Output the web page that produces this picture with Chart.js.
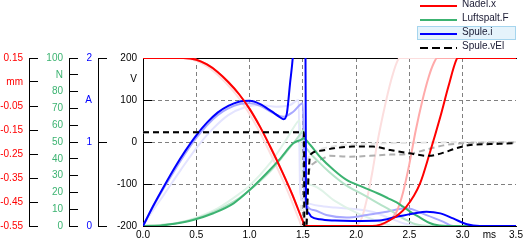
<!DOCTYPE html>
<html lang="de">
<head>
<meta charset="utf-8">
<title>Nadel / Luftspalt / Spule</title>
<script src="https://cdn.jsdelivr.net/npm/chart.js@4.4.1/dist/chart.umd.min.js"></script>
<style>
    body { margin: 0; background: #fff; }
    #contenedor { position: relative; width: 523px; height: 243px; }
    #leyenda {
        position: absolute; left: 417px; top: -2px;
        font: 10px "Liberation Sans", Arial, sans-serif; color: #1a1a33;
    }
    .fila { position: relative; width: 99px; height: 14px; line-height: 14px; }
    .fila.activa { background: #e5f3fb; box-shadow: inset 0 0 0 1px #a5d5ee; }
    .muestra { position: absolute; left: 3px; top: 7px; width: 37px; height: 2px; }
    .texto { position: absolute; left: 45px; top: -1px; white-space: nowrap; }
</style>
</head>
<body>
<div id="contenedor">
    <canvas id="grafico" width="523" height="243"></canvas>
    <div id="leyenda"></div>
</div>
<script>
// ejes
const zeitTicks = [0, 0.5, 1, 1.5, 2, 2.5, 3, 3.25, 3.5];
const zeitEtiquetas = ["0.0", "0.5", "1.0", "1.5", "2.0", "2.5", "3.0", "ms", "3.5"];
const mmTicks = [-0.55, -0.45, -0.35, -0.25, -0.15, -0.05, 0.05, 0.15];
const mmEtiquetas = ["-0.55", "-0.45", "-0.35", "-0.25", "-0.15", "-0.05", "mm", "0.15"];
const nTicks = [0, 10, 20, 30, 40, 50, 60, 70, 80, 90, 100];
const nEtiquetas = ["0", "10", "20", "30", "40", "50", "60", "70", "80", "N", "100"];
const aTicks = [0, 1, 1.5, 2];
const aEtiquetas = ["0", "1", "A", "2"];
const vTicks = [-200, -100, 0, 100, 150, 200];
const vEtiquetas = ["-200", "-100", "0", "100", "V", "200"];

// Nadel.x [mm]
const nadelZeit = [0, 0.38, 0.5, 0.6, 0.7, 0.8, 0.9, 1.0, 1.1, 1.2, 1.3, 1.4, 1.5, 1.52, 2.15, 2.32, 2.47, 2.6, 2.69, 2.79, 2.865, 2.94, 2.955, 3.5];
const nadelWeg = [0.15, 0.15, 0.143, 0.123, 0.092, 0.05, 0.0, -0.062, -0.138, -0.225, -0.318, -0.418, -0.53, -0.55, -0.55, -0.525, -0.47, -0.372, -0.247, -0.095, 0.03, 0.142, 0.15, 0.15];

// Luftspalt.F [N]
const luftspaltZeit = [0, 0.16, 0.28, 0.47, 0.66, 0.85, 1.0, 1.16, 1.29, 1.41, 1.49, 1.505, 1.57, 1.66, 1.79, 1.91, 2.07, 2.2, 2.3, 2.38, 2.44, 2.52, 2.6, 2.69, 2.78, 2.86, 3.5];
const luftspaltKraft = [0, 0.2, 1.2, 3.6, 7.6, 13.5, 21.4, 31.4, 40.3, 49.2, 51.6, 52.2, 48.2, 41.2, 33.3, 27.4, 23, 19.5, 16.5, 14, 11.5, 8, 5, 1.8, 0.3, 0, 0];

// Spule.i [A]
const spuleZeit = [0, 0.1, 0.2, 0.3, 0.4, 0.5, 0.6, 0.7, 0.8, 0.9, 1.0, 1.1, 1.2, 1.28, 1.32, 1.35, 1.38, 1.405, 1.44, 1.48, 1.52, 1.53, 1.55, 1.58, 1.66, 1.8, 1.97, 2.22, 2.38, 2.54, 2.66, 2.79, 2.91, 3.04, 3.16, 3.5];
const spuleStrom = [0, 0.25, 0.48, 0.7, 0.9, 1.08, 1.23, 1.35, 1.43, 1.48, 1.49, 1.45, 1.37, 1.3, 1.27, 1.34, 1.70, 2.0, 2.7, 3.3, 3.5, 0.3, 0.16, 0.11, 0.08, 0.065, 0.06, 0.065, 0.11, 0.15, 0.17, 0.15, 0.09, 0.02, 0, 0];

// Spule.vEl [V]
const spannungZeit = [0, 1.51, 1.516, 1.535, 1.56, 1.58, 1.66, 1.79, 1.97, 2.16, 2.32, 2.5, 2.68, 2.8, 2.94, 3.07, 3.26, 3.5];
const spannungWert = [23, 23, -300, -200, -50, -28, -21, -15, -11, -11, -19, -27, -33, -27, -15, -7, -5, -3];

// resultados anteriores (atenuados)
const nadelAlt1Zeit = [0, 0.38, 0.5, 0.6, 0.7, 0.8, 0.9, 1.0, 1.1, 1.2, 1.3, 1.4, 1.5, 1.52, 2.19, 2.3, 2.38, 2.44, 2.5, 2.56, 2.62, 2.68, 2.73, 2.76, 3.5];
const nadelAlt1Weg = [0.15, 0.15, 0.143, 0.123, 0.092, 0.05, 0.0, -0.062, -0.138, -0.225, -0.318, -0.418, -0.53, -0.55, -0.55, -0.53, -0.49, -0.41, -0.29, -0.15, -0.03, 0.07, 0.13, 0.15, 0.15];
const nadelAlt2Zeit = [0, 0.35, 0.47, 0.57, 0.67, 0.77, 0.87, 0.97, 1.07, 1.17, 1.27, 1.37, 1.47, 1.49, 1.98, 2.05, 2.1, 2.15, 2.2, 2.27, 2.33, 2.38, 2.41, 3.5];
const nadelAlt2Weg = [0.15, 0.15, 0.143, 0.123, 0.092, 0.05, 0.0, -0.062, -0.138, -0.225, -0.318, -0.418, -0.53, -0.55, -0.55, -0.52, -0.44, -0.33, -0.2, -0.05, 0.06, 0.13, 0.15, 0.15];

const luftspaltAlt1Zeit = [0, 0.3, 0.5, 0.7, 0.9, 1.05, 1.2, 1.32, 1.42, 1.48, 1.505, 1.515, 1.55, 1.65, 1.75, 1.9, 2.07, 2.22, 2.32, 2.4, 2.47, 2.55, 2.62, 2.7, 3.5];
const luftspaltAlt1Kraft = [0, 1.5, 4.5, 9.5, 16.5, 24, 33, 42, 50, 55, 57, 50, 45, 38, 32, 24.5, 18.5, 13, 9.5, 6, 3.6, 1.2, 0.3, 0, 0];
const luftspaltAlt2Zeit = [0, 0.3, 0.5, 0.7, 0.9, 1.0, 1.2, 1.35, 1.45, 1.47, 1.49, 1.6, 1.8, 2.0, 2.2, 2.35, 3.5];
const luftspaltAlt2Kraft = [0, 1.5, 5, 10.5, 19, 24, 38, 52, 62, 63, 32, 24, 15, 8, 3, 0, 0];

const spuleAlt1Zeit = [0, 0.1, 0.2, 0.3, 0.4, 0.5, 0.6, 0.7, 0.8, 0.9, 1.0, 1.1, 1.2, 1.28, 1.32, 1.41, 1.5, 1.515, 1.6, 1.72, 1.91, 2.1, 2.29, 2.47, 2.66, 2.82, 2.91, 3.5];
const spuleAlt1Strom = [0, 0.24, 0.46, 0.67, 0.87, 1.05, 1.2, 1.32, 1.4, 1.45, 1.46, 1.43, 1.36, 1.31, 1.30, 1.36, 1.46, 0.35, 0.19, 0.13, 0.1, 0.13, 0.17, 0.21, 0.13, 0.05, 0, 0];
const spuleAlt2Zeit = [0, 0.08, 0.2, 0.35, 0.52, 0.65, 0.8, 0.95, 1.1, 1.25, 1.38, 1.46, 1.475, 1.52, 1.65, 1.8, 2.0, 2.15, 2.3, 2.45, 2.6, 3.5];
const spuleAlt2Strom = [0, 0.16, 0.38, 0.66, 0.96, 1.15, 1.32, 1.41, 1.44, 1.42, 1.44, 1.5, 0.4, 0.28, 0.24, 0.22, 0.2, 0.17, 0.1, 0.03, 0, 0];

const spannungAlt1Zeit = [0, 1.505, 1.512, 1.53, 1.55, 1.6, 1.69, 1.75, 1.94, 2.13, 2.32, 2.5, 2.66, 2.82, 3.0, 3.5];
const spannungAlt1Wert = [23, 23, -300, -200, -82, -51, -39, -33, -35, -33, -30, -28, -18, -8, -3, -1];
const spannungAlt2Zeit = [0, 1.48, 1.485, 1.5, 1.53, 1.6, 1.75, 2.0, 2.5, 3.5];
const spannungAlt2Wert = [23, 23, -300, -200, -60, -25, -12, -6, -2, 0];

function pares(zeit, werte) {
    return zeit.map((t, i) => ({ x: t, y: werte[i] }));
}

function serie(etiqueta, zeit, werte, eje, color, orden, trazos) {
    return {
        label: etiqueta,
        data: pares(zeit, werte),
        yAxisID: eje,
        borderColor: color,
        backgroundColor: color,
        borderWidth: 2,
        borderDash: trazos || [],
        pointRadius: 0,
        cubicInterpolationMode: "monotone",
        fill: false,
        order: orden
    };
}

function crearEjeIzquierdo(valores, etiquetas, color, ancho, sinMarca, conRejilla) {
    const tieneMarca = ctx => ctx.tick && !sinMarca.includes(ctx.tick.value);
    const tieneRejilla = ctx => ctx.tick && conRejilla.includes(ctx.tick.value);

    return {
        type: "linear",
        position: "left",
        min: valores[0],
        max: valores[valores.length - 1],
        afterBuildTicks: eje => { eje.ticks = valores.map(v => ({ value: v })); },
        afterFit: eje => {
            eje.width = ancho;
            eje.paddingTop = 0;
            eje.paddingBottom = 0;
        },
        ticks: {
            color: color,
            padding: 15,
            autoSkip: false,
            callback: (valor, indice) => etiquetas[indice]
        },
        grid: {
            drawOnChartArea: conRejilla.length > 0,
            tickLength: -9,
            color: ctx => tieneRejilla(ctx) ? "#808080" : "transparent",
            tickColor: ctx => tieneMarca(ctx) ? "#000" : "transparent"
        },
        border: { color: "#000", dash: [4, 3] }
    };
}

function crearEjeTiempo() {
    const interior = ctx => ctx.tick && ctx.tick.value > 0 && ctx.tick.value <= 3 && ctx.tick.value !== 3.25;

    return {
        type: "linear",
        position: "bottom",
        min: 0,
        max: 3.5,
        afterBuildTicks: eje => { eje.ticks = zeitTicks.map(v => ({ value: v })); },
        afterFit: eje => {
            eje.height = 17;
            eje.paddingLeft = 0;
            eje.paddingRight = 0;
        },
        ticks: {
            color: "#000",
            padding: 11,
            autoSkip: false,
            maxRotation: 0,
            callback: (valor, indice) => zeitEtiquetas[indice]
        },
        grid: {
            tickLength: -8,
            color: ctx => interior(ctx) ? "#808080" : "transparent",
            tickColor: ctx => interior(ctx) ? "#000" : "transparent"
        },
        border: { color: "#000", dash: [4, 3] }
    };
}

function mostrarLeyenda(series) {
    const contenedor = document.getElementById("leyenda");
    contenedor.innerHTML = "";

    series.forEach(s => {
        const fila = document.createElement("div");
        fila.classList.add("fila");
        if (s.label === "Spule.i") {
            fila.classList.add("activa");
        }

        const muestra = document.createElement("span");
        muestra.classList.add("muestra");
        if (s.borderDash.length) {
            muestra.style.background =
                `repeating-linear-gradient(to right, ${s.borderColor} 0 8px, transparent 8px 12px)`;
        } else {
            muestra.style.background = s.borderColor;
        }

        const texto = document.createElement("span");
        texto.classList.add("texto");
        texto.textContent = s.label;

        fila.appendChild(muestra);
        fila.appendChild(texto);
        contenedor.appendChild(fila);
    });
}

function crearGrafico() {
    Chart.defaults.font.family = '"Liberation Sans", Arial, sans-serif';
    Chart.defaults.font.size = 10;

    const principales = [
        serie("Nadel.x", nadelZeit, nadelWeg, "yMm", "#ff0000", 1),
        serie("Luftspalt.F", luftspaltZeit, luftspaltKraft, "yN", "#3cb371", 3),
        serie("Spule.i", spuleZeit, spuleStrom, "yA", "#0000ff", 2),
        serie("Spule.vEl", spannungZeit, spannungWert, "yV", "#000000", 0, [6, 4])
    ];

    const anteriores = [
        serie("Nadel.x alt 1", nadelAlt1Zeit, nadelAlt1Weg, "yMm", "#ffaaaa", 10),
        serie("Nadel.x alt 2", nadelAlt2Zeit, nadelAlt2Weg, "yMm", "#fcdede", 20),
        serie("Luftspalt.F alt 1", luftspaltAlt1Zeit, luftspaltAlt1Kraft, "yN", "#b6e3c9", 11),
        serie("Luftspalt.F alt 2", luftspaltAlt2Zeit, luftspaltAlt2Kraft, "yN", "#e0f3e8", 21),
        serie("Spule.i alt 1", spuleAlt1Zeit, spuleAlt1Strom, "yA", "#a8a8ff", 12),
        serie("Spule.i alt 2", spuleAlt2Zeit, spuleAlt2Strom, "yA", "#e4e4ff", 22),
        serie("Spule.vEl alt 1", spannungAlt1Zeit, spannungAlt1Wert, "yV", "#b0b0b0", 13, [6, 4]),
        serie("Spule.vEl alt 2", spannungAlt2Zeit, spannungAlt2Wert, "yV", "#e6e6e6", 23, [6, 4])
    ];

    new Chart(document.getElementById("grafico"), {
        type: "line",
        data: { datasets: principales.concat(anteriores) },
        options: {
            responsive: false,
            animation: false,
            devicePixelRatio: 1,
            layout: { padding: { top: 58, right: 7, bottom: 0, left: 0 } },
            plugins: {
                legend: { display: false },
                tooltip: { enabled: false }
            },
            scales: {
                x: crearEjeTiempo(),
                xArriba: {
                    type: "linear",
                    position: "top",
                    min: 0,
                    max: 3.5,
                    ticks: { display: false },
                    grid: { display: false, drawTicks: false },
                    border: { color: "#000" },
                    afterFit: eje => { eje.height = 0; }
                },
                yV: crearEjeIzquierdo(vTicks, vEtiquetas, "#000", 45, [150], [-100, 0, 100]),
                yA: crearEjeIzquierdo(aTicks, aEtiquetas, "#0000ff", 29, [1.5], []),
                yN: crearEjeIzquierdo(nTicks, nEtiquetas, "#3cb371", 40, [], []),
                yMm: crearEjeIzquierdo(mmTicks, mmEtiquetas, "#ff0000", 29, [], [])
            }
        }
    });

    mostrarLeyenda(principales);
}

crearGrafico();
</script>
</body>
</html>
